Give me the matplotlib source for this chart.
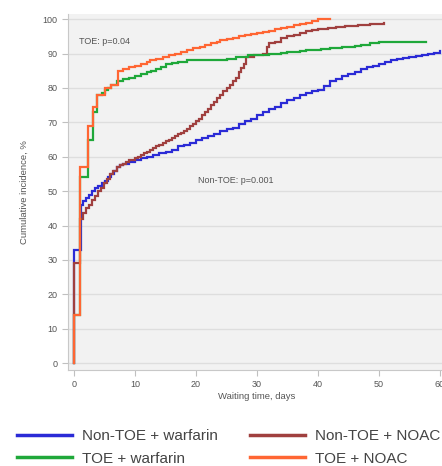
import matplotlib
matplotlib.use("Agg")
import matplotlib.pyplot as plt
from matplotlib.lines import Line2D

plt.rcParams['font.family'] = ['Liberation Sans', 'DejaVu Sans']

# Cumulative incidence step curves: event days and cumulative %
nontoe_warf_days = [0, 0, 1.1, 1.5, 2, 2.5, 3, 3.5, 4, 4.5, 5, 5.5, 6, 6.5, 7, 7.5, 8, 9, 10, 11, 12, 13, 14, 15, 16, 17,
                    18, 19, 20, 21, 22, 23, 24, 25, 26, 27, 28, 29, 30, 31, 32, 33, 34, 35, 36, 37, 38, 39, 40, 41, 42,
                    43, 44, 45, 46, 47, 48, 49, 50, 51, 52, 53, 54, 55, 56, 57, 58, 59, 60]
nontoe_warf_vals = [0, 33, 46, 47, 48, 49, 50, 51, 51.5, 52.5, 53, 54, 55, 56, 57, 57.5, 58, 58.5, 59, 59.5, 60, 60.5, 61,
                    61.5, 62, 63, 63.5, 64, 65, 65.5, 66, 66.5, 67.5, 68, 68.5, 69.5, 70.5, 71, 72, 73, 74, 74.5, 75.5,
                    76.5, 77, 78, 78.5, 79, 79.5, 80.5, 82, 82.5, 83.5, 84, 84.5, 85.5, 86, 86.5, 87, 87.5, 88, 88.3,
                    88.6, 89, 89.3, 89.6, 90, 90.3, 90.6]

nontoe_noac_days = [0, 0, 0.9, 1.4, 1.9, 2.4, 2.9, 3.4, 3.9, 4.4, 4.9, 5.4, 5.9, 6.4, 7, 7.5, 8, 8.5, 9, 10, 10.5, 11, 11.5,
                    12, 12.5, 13, 13.5, 14, 14.5, 15, 15.5, 16, 16.5, 17, 17.5, 18, 18.5, 19, 19.5, 20, 20.5, 21, 21.5,
                    22, 22.5, 23, 23.5, 24, 24.5, 25, 25.5, 26, 26.5, 27, 27.4, 27.8, 28.2, 29.5, 31, 31.6, 32, 33, 34,
                    35, 36, 37, 38, 39, 40, 41.6, 43, 44.5, 46.6, 48.5, 50.8]
nontoe_noac_vals = [0, 29, 42, 43.5, 45, 46, 47.5, 48.5, 50, 51, 52.5, 53.5, 55, 56, 57, 57.5, 58, 58.5, 59, 59.5, 60, 60.5,
                    61, 61.5, 62, 62.5, 63, 63.5, 64, 64.5, 65, 65.5, 66, 66.5, 67, 67.5, 68, 69, 69.5, 70.5, 71, 72, 73,
                    74, 75, 76, 77, 78, 79, 80, 81, 82, 83, 84.5, 85.8, 87, 89, 89.5, 90, 92, 93, 93.5, 94.5, 95, 95.5,
                    96, 96.5, 96.8, 97, 97.4, 97.8, 98, 98.3, 98.6, 99]

toe_warf_days = [0, 0, 0.9, 2.2, 3.1, 3.8, 4.5, 5, 5.5, 6, 7, 8, 9, 10, 11, 12, 12.6, 13.5, 14.2, 15, 16, 17, 18.5, 24, 25,
                 26.5, 28.5, 30, 32, 34, 35, 37, 38, 40.5, 42, 44, 46, 47, 48.5, 50, 51, 57.7]
toe_warf_vals = [0, 14, 54, 65, 73, 78, 78.5, 79.5, 80, 81, 82, 82.5, 83, 83.5, 84, 84.5, 85, 85.5, 86, 87, 87.2, 87.5, 88,
                 88, 88.5, 89, 89.5, 89.7, 90, 90.3, 90.5, 90.7, 91, 91.2, 91.5, 91.8, 92.2, 92.5, 93, 93.3, 93.5, 93.5]

toe_noac_days = [0, 0, 0.9, 2.2, 3.1, 3.8, 5, 6, 7.2, 8, 9, 10, 11, 12, 12.5, 13.5, 14.5, 15.5, 16.5, 17.5, 18.5, 19.5, 20.7,
                 21.5, 22.5, 23.5, 24, 25, 26, 27, 28, 29, 30, 31, 32, 33, 34, 35, 36, 37, 38, 39, 40, 42]
toe_noac_vals = [0, 14, 57, 69, 74.5, 78, 80, 81, 85, 85.5, 86, 86.5, 87, 87.5, 88, 88.5, 89, 89.5, 90, 90.5, 91, 91.5, 92,
                 92.5, 93, 93.5, 94, 94.3, 94.6, 95, 95.3, 95.6, 96, 96.3, 96.6, 97, 97.3, 97.8, 98.2, 98.6, 99, 99.5,
                 100, 100]

series = [
    ("Non-TOE + warfarin", nontoe_warf_days, nontoe_warf_vals, "#2b2bd6"),
    ("Non-TOE + NOAC", nontoe_noac_days, nontoe_noac_vals, "#a0403f"),
    ("TOE + warfarin", toe_warf_days, toe_warf_vals, "#1fa83a"),
    ("TOE + NOAC", toe_noac_days, toe_noac_vals, "#ff6633"),
]

fig = plt.figure(figsize=(4.42, 4.66), dpi=100)
fig.patch.set_facecolor("white")
ax = fig.add_axes([68 / 442, 96 / 466, 378 / 442, 356 / 466])
ax.set_facecolor("#f2f2f2")

colors = {}
for name, d, v, c in series:
    ax.plot(d, v, drawstyle="steps-post", color=c, lw=1.6, solid_joinstyle="miter")
    colors[name] = c

ax.set_xlim(-1, 61)
ax.set_ylim(-2, 101.5)
ax.set_xticks(range(0, 61, 10))
ax.set_yticks(range(0, 101, 10))
ax.yaxis.grid(True, color="#dedede", lw=1)
ax.set_axisbelow(True)
for s in ["top", "right"]:
    ax.spines[s].set_visible(False)
for s in ["left", "bottom"]:
    ax.spines[s].set_color("#c8c8c8")
    ax.spines[s].set_linewidth(0.8)
ax.tick_params(axis="both", colors="#c0c0c0", labelcolor="#555555", labelsize=6.5, length=4, width=0.8)

ax.set_xlabel("Waiting time, days", fontsize=6.8, color="#555555", labelpad=2)
ax.set_ylabel("Cumulative incidence, %", fontsize=6.8, color="#555555", labelpad=10)

ax.text(0.8, 93.6, "TOE: p=0.04", fontsize=6.5, color="#555555", va="center", ha="left")
ax.text(20.3, 53.2, "Non-TOE: p=0.001", fontsize=6.5, color="#555555", va="center", ha="left")

order = ["Non-TOE + warfarin", "TOE + warfarin", "Non-TOE + NOAC", "TOE + NOAC"]
leg_handles = [Line2D([], [], color=colors[n], lw=2.5) for n in order]
fig.legend(leg_handles, order, ncol=2, loc="upper left", bbox_to_anchor=(0.024, 0.092),
           frameon=False, fontsize=11, handlelength=3.6, handletextpad=0.65,
           columnspacing=2.1, labelspacing=0.55, labelcolor="#444444", borderaxespad=0)

fig.savefig("out.png", dpi=100)
